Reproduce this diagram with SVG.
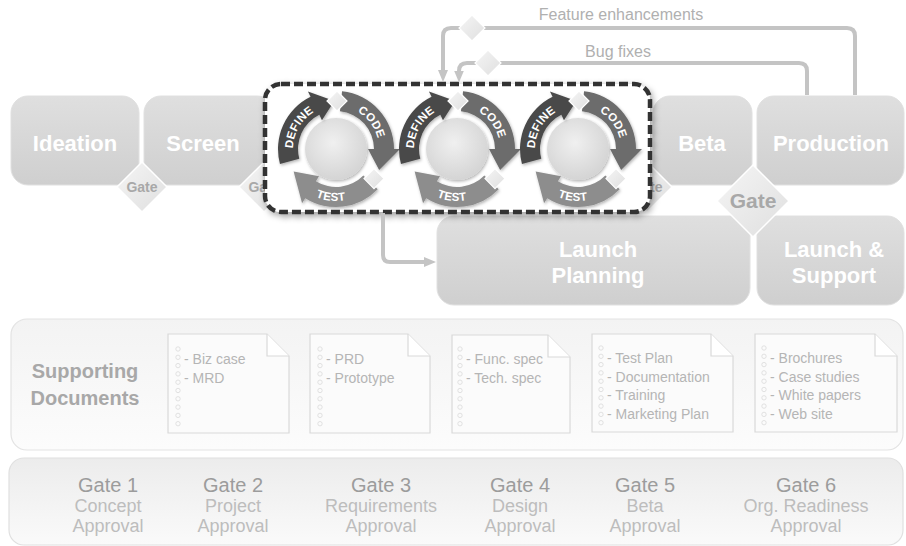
<svg xmlns="http://www.w3.org/2000/svg" width="906" height="546" viewBox="0 0 906 546">
  <style>
    .box { fill: url(#gBox); stroke: #e0e0e0; stroke-width: 1; }
    .boxTxt { font-family: "Liberation Sans", Arial, sans-serif; font-weight: bold; font-size: 22px; fill: #ffffff; text-anchor: middle; }
    .gate { fill: url(#gGate); stroke: #ffffff; stroke-width: 1.5; }
    .gateTxt { font-family: "Liberation Sans", Arial, sans-serif; font-weight: bold; font-size: 14px; fill: #a8a8a8; text-anchor: middle; }
    .wire { fill: none; stroke: #c4c4c4; stroke-width: 4; stroke-linejoin: round; }
    .wireTxt { font-family: "Liberation Sans", Arial, sans-serif; font-size: 16px; fill: #b0b0b0; text-anchor: middle; }
    .tag { fill: url(#gGate); stroke: #ffffff; stroke-width: 1.2; }
    .arcTxt { font-family: "Liberation Sans", Arial, sans-serif; font-weight: bold; font-size: 11.5px; fill: #ffffff; letter-spacing: 0.3px; }
    .panel { fill: url(#gPanel); stroke: #e3e3e3; stroke-width: 1.2; }
    .panelTitle { font-family: "Liberation Sans", Arial, sans-serif; font-weight: bold; font-size: 20px; fill: #a8a8a8; text-anchor: middle; }
    .doc { fill: #fbfbfb; stroke: #d9d9d9; stroke-width: 1.2; }
    .fold { fill: #ffffff; stroke: #d9d9d9; stroke-width: 1.2; }
    .hole { fill: none; stroke: #dedede; stroke-width: 0.9; }
    .docTxt { font-family: "Liberation Sans", Arial, sans-serif; font-size: 14px; fill: #b5b5b5; }
    .gateHead { font-family: "Liberation Sans", Arial, sans-serif; font-size: 20px; fill: #9c9c9c; text-anchor: middle; }
    .gateSub { font-family: "Liberation Sans", Arial, sans-serif; font-size: 18px; fill: #bdbdbd; text-anchor: middle; }
  </style>
  <defs>
    <linearGradient id="gBox" x1="0" y1="0" x2="0" y2="1">
      <stop offset="0" stop-color="#dfdfdf"/>
      <stop offset="1" stop-color="#cfcfcf"/>
    </linearGradient>
    <linearGradient id="gGate" x1="0" y1="0" x2="1" y2="1">
      <stop offset="0" stop-color="#f5f5f5"/>
      <stop offset="1" stop-color="#dfdfdf"/>
    </linearGradient>
    <radialGradient id="gHub" cx="0.45" cy="0.4" r="0.65">
      <stop offset="0" stop-color="#f0f0f0"/>
      <stop offset="1" stop-color="#d2d2d2"/>
    </radialGradient>
    <linearGradient id="gPanel" x1="0" y1="0" x2="0" y2="1">
      <stop offset="0" stop-color="#f3f3f3"/>
      <stop offset="1" stop-color="#fcfcfc"/>
    </linearGradient>
    <linearGradient id="gGateRow" x1="0" y1="0" x2="0" y2="1">
      <stop offset="0" stop-color="#ececec"/>
      <stop offset="1" stop-color="#fafafa"/>
    </linearGradient>
    <filter id="shadow" x="-10%" y="-15%" width="125%" height="140%">
      <feDropShadow dx="2" dy="3" stdDeviation="3" flood-color="#000000" flood-opacity="0.35"/>
    </filter>
    <filter id="soft" x="-20%" y="-20%" width="140%" height="140%">
      <feDropShadow dx="1" dy="1.5" stdDeviation="1.5" flood-color="#000000" flood-opacity="0.3"/>
    </filter>
    <marker id="arr" viewBox="0 0 12 10" refX="1" refY="5" markerWidth="12" markerHeight="10" markerUnits="userSpaceOnUse" orient="auto">
      <path d="M0,0 L12,5 L0,10 Z" fill="#c4c4c4"/>
    </marker>

    <!-- baselines for the arc labels, centred on the hub -->
    <path id="pDefine" d="M -42.35,7.47 A43,43 0 0 1 -14.71,-40.41"/>
    <path id="pCode" d="M 9.67,-41.90 A43,43 0 0 1 42.94,2.25"/>
    <path id="pTest" d="M -37.41,36.12 A52,52 0 0 0 29.08,43.11"/>

    <!-- one define / code / test loop, drawn around (0,0) -->
    <g id="cycle">
      <circle r="31" fill="url(#gHub)" filter="url(#soft)"/>
      <path d="M 41.72,40.29 A58,58 0 0 1 -30.74,49.19 L -33.92,54.27 L -42.38,22.54 L -16.96,27.14 L -20.14,32.22 A38,38 0 0 0 27.33,26.40 Z" fill="#8d8d8d" filter="url(#soft)"/>
      <path d="M 6.06,-57.68 A58,58 0 0 1 58,0 L 64,0 L 43.14,21.04 L 32,0 L 38,0 A38,38 0 0 0 3.97,-37.79 Z" fill="#6c6c6c" filter="url(#soft)"/>
      <path d="M -56.02,15.01 A58,58 0 0 1 -25.43,-52.13 L -28.06,-57.52 L -1.68,-47.97 L -14.03,-28.76 L -16.66,-34.15 A38,38 0 0 0 -36.70,9.83 Z" fill="#4a4a4a" filter="url(#soft)"/>
      <path class="tag" d="M1,-58 L11,-48 L1,-38 L-9,-48 Z"/>
      <path class="tag" d="M38,19.6 L48,29.6 L38,39.6 L28,29.6 Z"/>
      <text class="arcTxt"><textPath href="#pDefine" startOffset="50%" text-anchor="middle">DEFINE</textPath></text>
      <text class="arcTxt"><textPath href="#pCode" startOffset="50%" text-anchor="middle">CODE</textPath></text>
      <text class="arcTxt"><textPath href="#pTest" startOffset="50%" text-anchor="middle">TEST</textPath></text>
    </g>
  </defs>

  <rect width="906" height="546" fill="#ffffff"/>

  <!-- stage boxes -->
  <g id="ideation">
    <rect class="box" x="11" y="96" width="128" height="89" rx="17"/>
    <text class="boxTxt" x="75" y="151">Ideation</text>
  </g>
  <g id="screen">
    <rect class="box" x="144" y="96" width="130" height="89" rx="17"/>
    <text class="boxTxt" x="203" y="151">Screen</text>
  </g>
  <g id="beta">
    <rect class="box" x="653" y="96" width="99" height="89" rx="17"/>
    <text class="boxTxt" x="702" y="151">Beta</text>
  </g>
  <g id="production">
    <rect class="box" x="757" y="96" width="147" height="89" rx="17"/>
    <text class="boxTxt" x="831" y="151">Production</text>
  </g>
  <g id="launch-planning">
    <rect class="box" x="437" y="216" width="313" height="89" rx="17"/>
    <text class="boxTxt" x="598" y="257">Launch</text>
    <text class="boxTxt" x="598" y="283">Planning</text>
  </g>
  <g id="launch-support">
    <rect class="box" x="757" y="216" width="147" height="89" rx="17"/>
    <text class="boxTxt" x="834" y="257">Launch &amp;</text>
    <text class="boxTxt" x="834" y="283">Support</text>
  </g>

  <!-- gate diamonds between stages -->
  <g id="gate-a">
    <path class="gate" d="M142,162 L167,187 L142,212 L117,187 Z"/>
    <text class="gateTxt" x="142" y="192">Gate</text>
  </g>
  <g id="gate-b">
    <path class="gate" d="M264,162 L289,187 L264,212 L239,187 Z"/>
    <text class="gateTxt" x="264" y="192">Gate</text>
  </g>
  <g id="gate-c">
    <path class="gate" d="M647,162 L672,187 L647,212 L622,187 Z"/>
    <text class="gateTxt" x="647" y="192">Gate</text>
  </g>
  <g id="gate-d">
    <path class="gate" d="M753,165 L789,201 L753,237 L717,201 Z"/>
    <text class="gateTxt" style="font-size:21px" x="753" y="208">Gate</text>
  </g>

  <!-- iterative development block -->
  <g id="iterations">
    <rect x="265" y="84" width="385" height="128" rx="16" fill="#ffffff" stroke="#333333" stroke-width="4.5" stroke-dasharray="9 4" filter="url(#shadow)"/>
    <g id="cycle-1"><use href="#cycle" transform="translate(336,149)"/></g>
    <g id="cycle-2"><use href="#cycle" transform="translate(457,149)"/></g>
    <g id="cycle-3"><use href="#cycle" transform="translate(578,149)"/></g>
  </g>

  <!-- connectors -->
  <g id="connectors">
    <path class="wire" d="M855,95 V36 Q855,28 847,28 H451 Q443,28 443,36 V71" marker-end="url(#arr)"/>
    <path class="tag" d="M472,15 L485,28 L472,41 L459,28 Z"/>
    <text class="wireTxt" x="621" y="20">Feature enhancements</text>
    <path class="wire" d="M807,95 V71 Q807,63 799,63 H467 Q459,63 459,71 V71.5" marker-end="url(#arr)"/>
    <path class="tag" d="M488,50 L501,63 L488,76 L475,63 Z"/>
    <text class="wireTxt" x="618" y="57">Bug fixes</text>
    <path class="wire" d="M383,213 V255 Q383,262 390,262 H425" marker-end="url(#arr)"/>
  </g>

  <!-- supporting documents -->
  <g id="supporting-documents">
    <rect class="panel" x="11" y="319" width="892" height="131" rx="16"/>
    <text class="panelTitle" x="85" y="378">Supporting</text>
    <text class="panelTitle" x="85" y="405">Documents</text>
  </g>
  <g id="doc-1">
    <path class="doc" d="M168,334 H267 L289,356 V433 H168 Z"/>
    <path class="fold" d="M267,334 V356 H289"/>
    <g class="hole">
      <circle cx="178" cy="349" r="2.2"/><circle cx="178" cy="357.3" r="2.2"/><circle cx="178" cy="365.6" r="2.2"/><circle cx="178" cy="373.9" r="2.2"/><circle cx="178" cy="382.2" r="2.2"/><circle cx="178" cy="390.5" r="2.2"/><circle cx="178" cy="398.8" r="2.2"/><circle cx="178" cy="407.1" r="2.2"/><circle cx="178" cy="415.4" r="2.2"/><circle cx="178" cy="423.7" r="2.2"/>
    </g>
    <text class="docTxt" x="184" y="364">- Biz case</text>
    <text class="docTxt" x="184" y="383">- MRD</text>
  </g>
  <g id="doc-2">
    <path class="doc" d="M310,334 H408 L430,356 V433 H310 Z"/>
    <path class="fold" d="M408,334 V356 H430"/>
    <g class="hole">
      <circle cx="320" cy="349" r="2.2"/><circle cx="320" cy="357.3" r="2.2"/><circle cx="320" cy="365.6" r="2.2"/><circle cx="320" cy="373.9" r="2.2"/><circle cx="320" cy="382.2" r="2.2"/><circle cx="320" cy="390.5" r="2.2"/><circle cx="320" cy="398.8" r="2.2"/><circle cx="320" cy="407.1" r="2.2"/><circle cx="320" cy="415.4" r="2.2"/><circle cx="320" cy="423.7" r="2.2"/>
    </g>
    <text class="docTxt" x="326" y="364">- PRD</text>
    <text class="docTxt" x="326" y="383">- Prototype</text>
  </g>
  <g id="doc-3">
    <path class="doc" d="M452,335 H548 L570,357 V433 H452 Z"/>
    <path class="fold" d="M548,335 V357 H570"/>
    <g class="hole">
      <circle cx="460" cy="349" r="2.2"/><circle cx="460" cy="357.3" r="2.2"/><circle cx="460" cy="365.6" r="2.2"/><circle cx="460" cy="373.9" r="2.2"/><circle cx="460" cy="382.2" r="2.2"/><circle cx="460" cy="390.5" r="2.2"/><circle cx="460" cy="398.8" r="2.2"/><circle cx="460" cy="407.1" r="2.2"/><circle cx="460" cy="415.4" r="2.2"/><circle cx="460" cy="423.7" r="2.2"/>
    </g>
    <text class="docTxt" x="466" y="364">- Func. spec</text>
    <text class="docTxt" x="466" y="383">- Tech. spec</text>
  </g>
  <g id="doc-4">
    <path class="doc" d="M592,334 H711 L733,356 V432 H592 Z"/>
    <path class="fold" d="M711,334 V356 H733"/>
    <g class="hole">
      <circle cx="601" cy="348" r="2.2"/><circle cx="601" cy="356.3" r="2.2"/><circle cx="601" cy="364.6" r="2.2"/><circle cx="601" cy="372.9" r="2.2"/><circle cx="601" cy="381.2" r="2.2"/><circle cx="601" cy="389.5" r="2.2"/><circle cx="601" cy="397.8" r="2.2"/><circle cx="601" cy="406.1" r="2.2"/><circle cx="601" cy="414.4" r="2.2"/><circle cx="601" cy="422.7" r="2.2"/>
    </g>
    <text class="docTxt" x="607" y="363">- Test Plan</text>
    <text class="docTxt" x="607" y="382">- Documentation</text>
    <text class="docTxt" x="607" y="400">- Training</text>
    <text class="docTxt" x="607" y="419">- Marketing Plan</text>
  </g>
  <g id="doc-5">
    <path class="doc" d="M755,334 H875 L897,356 V432 H755 Z"/>
    <path class="fold" d="M875,334 V356 H897"/>
    <g class="hole">
      <circle cx="764" cy="348" r="2.2"/><circle cx="764" cy="356.3" r="2.2"/><circle cx="764" cy="364.6" r="2.2"/><circle cx="764" cy="372.9" r="2.2"/><circle cx="764" cy="381.2" r="2.2"/><circle cx="764" cy="389.5" r="2.2"/><circle cx="764" cy="397.8" r="2.2"/><circle cx="764" cy="406.1" r="2.2"/><circle cx="764" cy="414.4" r="2.2"/><circle cx="764" cy="422.7" r="2.2"/>
    </g>
    <text class="docTxt" x="770" y="363">- Brochures</text>
    <text class="docTxt" x="770" y="382">- Case studies</text>
    <text class="docTxt" x="770" y="400">- White papers</text>
    <text class="docTxt" x="770" y="419">- Web site</text>
  </g>

  <!-- gate approvals -->
  <g id="gate-approvals">
    <rect x="9" y="458" width="894" height="87" rx="15" fill="url(#gGateRow)" stroke="#e0e0e0" stroke-width="1.2"/>
  </g>
  <g id="gate-1">
    <text class="gateHead" x="108" y="492">Gate 1</text>
    <text class="gateSub" x="108" y="512">Concept</text>
    <text class="gateSub" x="108" y="532">Approval</text>
  </g>
  <g id="gate-2">
    <text class="gateHead" x="233" y="492">Gate 2</text>
    <text class="gateSub" x="233" y="512">Project</text>
    <text class="gateSub" x="233" y="532">Approval</text>
  </g>
  <g id="gate-3">
    <text class="gateHead" x="381" y="492">Gate 3</text>
    <text class="gateSub" x="381" y="512">Requirements</text>
    <text class="gateSub" x="381" y="532">Approval</text>
  </g>
  <g id="gate-4">
    <text class="gateHead" x="520" y="492">Gate 4</text>
    <text class="gateSub" x="520" y="512">Design</text>
    <text class="gateSub" x="520" y="532">Approval</text>
  </g>
  <g id="gate-5">
    <text class="gateHead" x="645" y="492">Gate 5</text>
    <text class="gateSub" x="645" y="512">Beta</text>
    <text class="gateSub" x="645" y="532">Approval</text>
  </g>
  <g id="gate-6">
    <text class="gateHead" x="806" y="492">Gate 6</text>
    <text class="gateSub" x="806" y="512">Org. Readiness</text>
    <text class="gateSub" x="806" y="532">Approval</text>
  </g>
</svg>
